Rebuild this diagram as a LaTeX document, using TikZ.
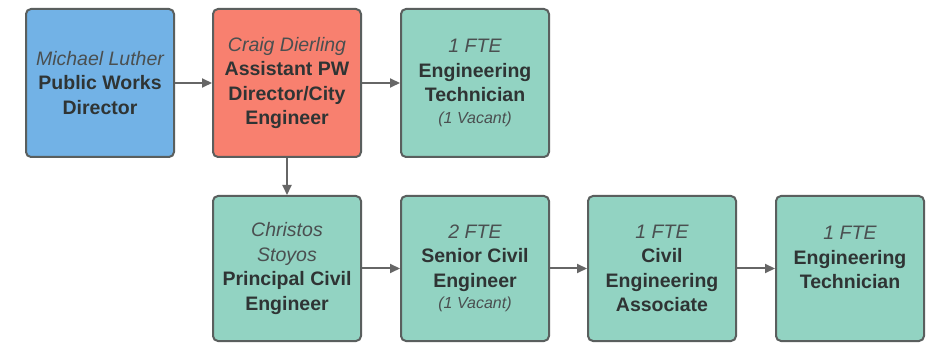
\documentclass[tikz,border=0pt]{standalone}
\usepackage{fontspec}
\setmainfont{Liberation Sans}
\usetikzlibrary{arrows.meta}
\definecolor{bluefill}{HTML}{72B2E6}
\definecolor{redfill}{HTML}{F8806F}
\definecolor{tealfill}{HTML}{92D3C2}
\definecolor{edge}{HTML}{5A5F5E}
\definecolor{namecol}{HTML}{4A4F50}
\definecolor{titlecol}{HTML}{2F3434}
\definecolor{arrowcol}{HTML}{666666}
\tikzset{
  x=1pt, y=-1pt,
  box/.style={draw=edge, line width=2pt, rounded corners=5pt,
    minimum width=148pt, align=center, inner sep=0pt,
    font=\fontsize{19.5}{24.5}\selectfont, text=titlecol},
  toprow/.style={box, minimum height=148pt},
  botrow/.style={box, minimum height=145pt, fill=tealfill},
  conn/.style={draw=arrowcol, line width=2pt,
    -{Triangle[length=10pt,width=9pt]}},
}
\newcommand{\nm}[1]{{\itshape\color{namecol}#1}}
\newcommand{\ttl}[1]{{\bfseries #1}}
\newcommand{\vac}[1]{{\fontsize{16}{19}\selectfont\itshape\color{namecol}#1}}
\begin{document}
\begin{tikzpicture}
\useasboundingbox (0,0) rectangle (931,344);
\fill[white] (0,0) rectangle (931,344);
\node[toprow, fill=bluefill] (mluther) at (100,83)
  {\nm{Michael Luther}\\\ttl{Public Works}\\\ttl{Director}};
\node[toprow, fill=redfill] (cdierling) at (287,83)
  {\nm{Craig Dierling}\\\ttl{Assistant PW}\\\ttl{Director/City}\\\ttl{Engineer}};
\node[toprow, fill=tealfill] (tech1) at (475,83)
  {\nm{1 FTE}\\\ttl{Engineering}\\\ttl{Technician}\\[-3pt]\vac{(1 Vacant)}};
\node[botrow] (cstoyos) at (287,268.5)
  {\nm{Christos}\\\nm{Stoyos}\\\ttl{Principal Civil}\\\ttl{Engineer}};
\node[botrow] (senior) at (475,268.5)
  {\nm{2 FTE}\\\ttl{Senior Civil}\\\ttl{Engineer}\\[-3pt]\vac{(1 Vacant)}};
\node[botrow] (assoc) at (662,268.5)
  {\nm{1 FTE}\\\ttl{Civil}\\\ttl{Engineering}\\\ttl{Associate}};
\node[botrow, text depth=22pt] (tech2) at (850,268.5)
  {\nm{1 FTE}\\\ttl{Engineering}\\\ttl{Technician}};
\draw[conn] (mluther) -- (cdierling);
\draw[conn] (cdierling) -- (tech1);
\draw[conn] (cdierling) -- (cstoyos);
\draw[conn] (cstoyos) -- (senior);
\draw[conn] (senior) -- (assoc);
\draw[conn] (assoc) -- (tech2);
\end{tikzpicture}
\end{document}
